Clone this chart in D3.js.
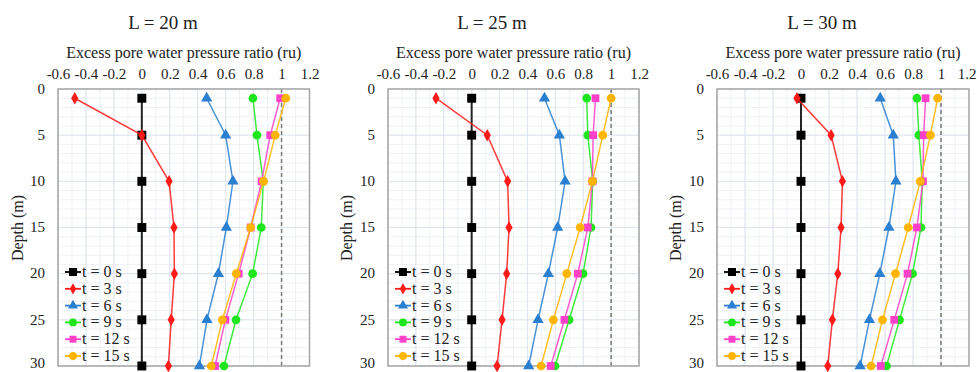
<!DOCTYPE html>
<html><head><meta charset="utf-8">
<script src="https://cdn.jsdelivr.net/npm/d3@7/dist/d3.min.js"></script>
<style>body{margin:0;background:#fff}svg{display:block}</style>
</head><body>
<svg id="c" width="977" height="372" font-family="Liberation Serif, serif"></svg>
<script>
const depths = [1, 5, 10, 15, 20, 25, 30];
const seriesNames = ["t = 0 s", "t = 3 s", "t = 6 s", "t = 9 s", "t = 12 s", "t = 15 s"];
const xTicks = [-0.6, -0.4, -0.2, 0, 0.2, 0.4, 0.6, 0.8, 1, 1.2];
const yTicks = [0, 5, 10, 15, 20, 25, 30];
const panelTitles = ["L = 20 m", "L = 25 m", "L = 30 m"];

const ruL20 = [
  [0, 0, 0, 0, 0, 0, 0],
  [-0.48, 0, 0.195, 0.23, 0.233, 0.21, 0.19],
  [0.464, 0.60, 0.652, 0.605, 0.548, 0.466, 0.412],
  [0.795, 0.824, 0.869, 0.855, 0.793, 0.674, 0.588],
  [0.99, 0.919, 0.857, 0.779, 0.693, 0.598, 0.524],
  [1.03, 0.955, 0.871, 0.779, 0.676, 0.576, 0.497]
];
const ruL25 = [
  [0, 0, 0, 0, 0, 0, 0],
  [-0.256, 0.112, 0.258, 0.268, 0.251, 0.218, 0.182],
  [0.522, 0.629, 0.670, 0.617, 0.550, 0.476, 0.409],
  [0.825, 0.833, 0.868, 0.856, 0.799, 0.699, 0.598],
  [0.888, 0.871, 0.866, 0.833, 0.761, 0.665, 0.567],
  [1.0, 0.940, 0.866, 0.778, 0.682, 0.586, 0.498]
];
const ruL30 = [
  [0, 0, 0, 0, 0, 0, 0],
  [-0.029, 0.215, 0.296, 0.286, 0.263, 0.224, 0.191],
  [0.566, 0.659, 0.678, 0.628, 0.563, 0.489, 0.422],
  [0.828, 0.842, 0.866, 0.857, 0.797, 0.704, 0.611],
  [0.890, 0.876, 0.871, 0.828, 0.761, 0.666, 0.570],
  [0.976, 0.924, 0.852, 0.766, 0.675, 0.582, 0.501]
];

const styles = [
  {color: "#000000", sym: d3.symbolSquare, size: 80},
  {color: "#ff1a1a", sym: d3.symbolDiamond, size: 45},
  {color: "#2a7fd0", sym: d3.symbolTriangle, size: 55},
  {color: "#1ee61e", sym: d3.symbolCircle, size: 60},
  {color: "#ff40c8", sym: d3.symbolSquare, size: 60},
  {color: "#ffb400", sym: d3.symbolCircle, size: 60}
];

const FONT = "'Liberation Serif', 'Times New Roman', serif";
const panels = [
  {data: ruL20, left: 58, right: 309.5, titleX: 163, depthX: 18},
  {data: ruL25, left: 388, right: 639, titleX: 492, depthX: 347},
  {data: ruL30, left: 717, right: 969, titleX: 822, depthX: 676}
];
const plotTop = 89, plotBottom = 366;
const svg = d3.select("#c");

function txt(sel, size) {
  return sel.style("font-family", FONT).style("font-size", size + "px").style("fill", "#222");
}

panels.forEach((p, pi) => {
  const x = d3.scaleLinear().domain([-0.6, 1.2]).range([p.left, p.right]);
  const y = d3.scaleLinear().domain([0, 30]).range([plotTop, plotBottom]);
  const g = svg.append("g");

  // minor grid
  g.append("g").selectAll("line").data(d3.range(-0.6, 1.2001, 0.1).map(v => +v.toFixed(2)))
    .join("line").attr("x1", d => x(d)).attr("x2", d => x(d)).attr("y1", plotTop).attr("y2", plotBottom)
    .attr("stroke", "#eef1f6").attr("stroke-width", 1);
  g.append("g").selectAll("line").data(d3.range(0, 31, 1))
    .join("line").attr("y1", d => y(d)).attr("y2", d => y(d)).attr("x1", p.left).attr("x2", p.right)
    .attr("stroke", "#eef1f6").attr("stroke-width", 1);
  // major grid
  g.append("g").selectAll("line").data(xTicks)
    .join("line").attr("x1", d => x(d)).attr("x2", d => x(d)).attr("y1", plotTop).attr("y2", plotBottom)
    .attr("stroke", "#dfe5ee").attr("stroke-width", 1);
  g.append("g").selectAll("line").data(yTicks)
    .join("line").attr("y1", d => y(d)).attr("y2", d => y(d)).attr("x1", p.left).attr("x2", p.right)
    .attr("stroke", "#dfe5ee").attr("stroke-width", 1);

  // dashed line at ru = 1
  g.append("line").attr("x1", x(1)).attr("x2", x(1)).attr("y1", plotTop).attr("y2", plotBottom)
    .attr("stroke", "#7a7a7a").attr("stroke-width", 1.5).attr("stroke-dasharray", "4,3");

  // frame
  g.append("rect").attr("x", p.left).attr("y", plotTop).attr("width", p.right - p.left).attr("height", plotBottom - plotTop)
    .attr("fill", "none").attr("stroke", "#a6a6a6").attr("stroke-width", 1.5);

  // axes
  const xa = g.append("g").attr("transform", `translate(0,${plotTop})`)
    .call(d3.axisTop(x).tickValues(xTicks).tickSize(0).tickPadding(10).tickFormat(d => String(d)));
  xa.attr("font-family", null);
  xa.select(".domain").remove();
  txt(xa.selectAll("text"), 15);
  if (pi === 2) {
    xa.selectAll("text").filter(d => d === 1.2).attr("text-anchor", "end").attr("x", 977 - x(1.2) - 1);
  }
  const ya = g.append("g").attr("transform", `translate(${p.left},0)`)
    .call(d3.axisLeft(y).tickValues(yTicks).tickSize(0).tickPadding(13).tickFormat(d => String(d)));
  ya.attr("font-family", null);
  ya.select(".domain").remove();
  txt(ya.selectAll("text"), 15).attr("dy", "0.28em");
  ya.selectAll("text").filter(d => d === 30).attr("dy", "0.12em");

  // titles
  txt(g.append("text").attr("x", p.titleX).attr("y", 29).attr("text-anchor", "middle"), 19).text(panelTitles[pi]);
  txt(g.append("text").attr("x", (p.left + p.right) / 2).attr("y", 58).attr("text-anchor", "middle"), 16)
    .text("Excess pore water pressure ratio (ru)");
  txt(g.append("text").attr("transform", `translate(${p.depthX + 5},228) rotate(-90)`).attr("text-anchor", "middle"), 16)
    .text("Depth (m)");

  // series
  const line = d3.line().x(d => x(d[0])).y(d => y(d[1]));
  p.data.forEach((vals, si) => {
    const st = styles[si];
    const pts = vals.map((v, i) => [v, depths[i]]);
    g.append("path").attr("d", line(pts)).attr("fill", "none").attr("stroke", st.color)
      .attr("stroke-width", si === 0 ? 2 : 1.5).attr("opacity", 0.85);
    g.append("g").selectAll("path").data(pts).join("path")
      .attr("transform", d => `translate(${x(d[0])},${y(d[1])})`)
      .attr("d", d3.symbol().type(st.sym).size(st.size)).attr("fill", st.color);
  });

  // legend
  const lg = g.append("g").attr("transform", `translate(${p.left + 7},272)`);
  seriesNames.forEach((name, si) => {
    const st = styles[si];
    const row = lg.append("g").attr("transform", `translate(0,${si * 16.8})`);
    row.append("line").attr("x1", 0).attr("x2", 16).attr("stroke", st.color).attr("stroke-width", 1.8);
    row.append("path").attr("transform", "translate(8,0)").attr("d", d3.symbol().type(st.sym).size(st.size * 0.8)).attr("fill", st.color);
    txt(row.append("text").attr("x", 17).attr("y", 5), 16).text(name);
  });
});
</script>
</body></html>
